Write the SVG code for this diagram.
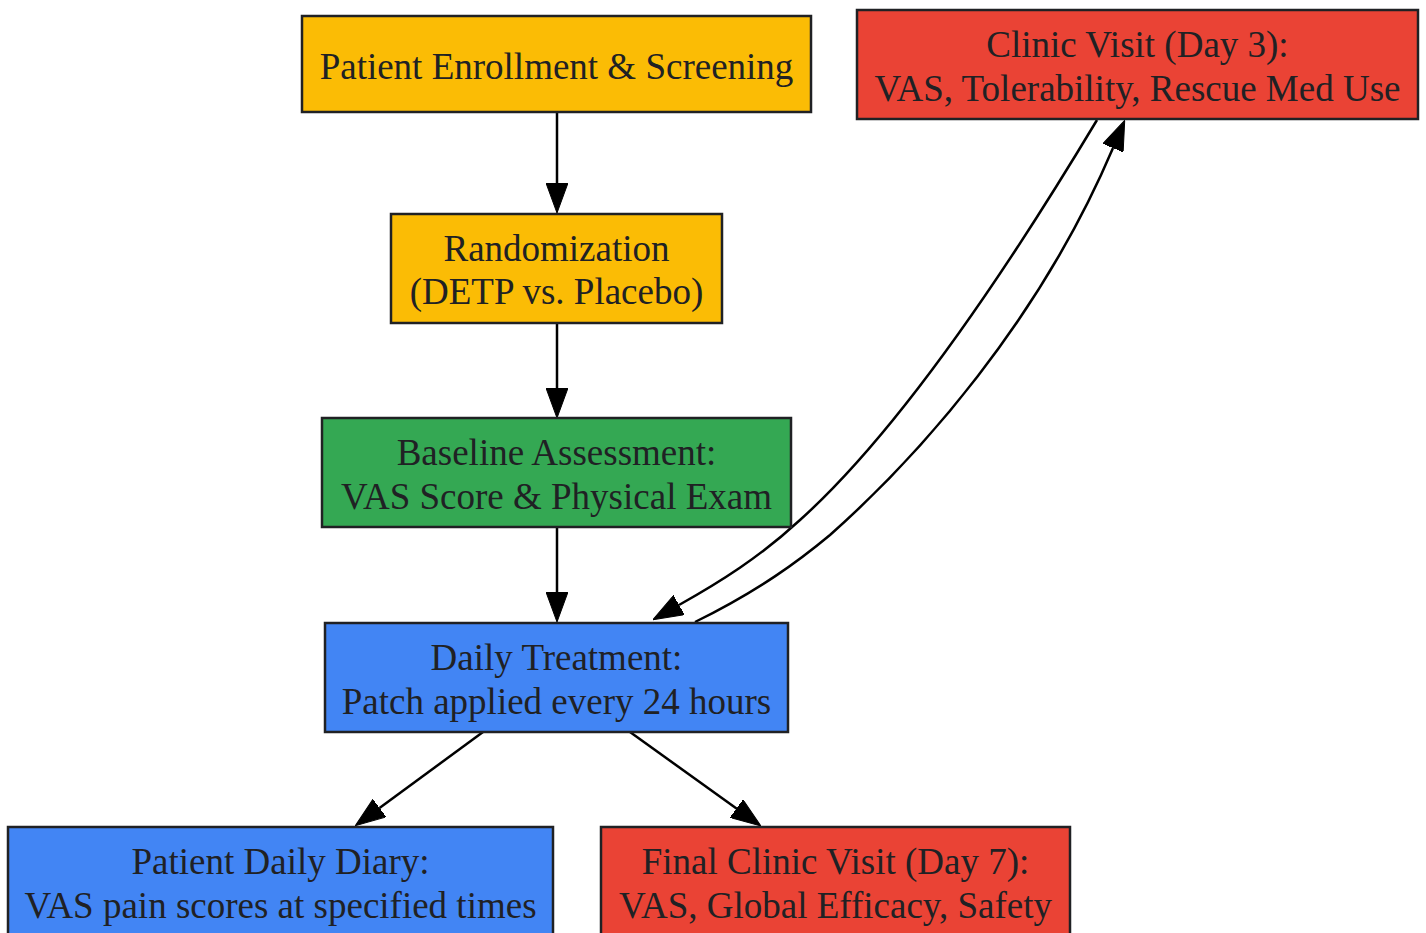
<svg xmlns="http://www.w3.org/2000/svg" width="1426" height="933" viewBox="0 0 1426 933">
<style>
.box{stroke:#202124;stroke-width:2.5}
.y{fill:#FBBC05}.r{fill:#EA4335}.g{fill:#34A853}.b{fill:#4285F4}
text{font-family:"Liberation Serif","Times New Roman",serif;font-size:37px;fill:#202124;text-anchor:middle}
.e{fill:none;stroke:#000;stroke-width:2.5;marker-end:url(#ah)}
</style>
<defs>
<marker id="ah" viewBox="0 0 30 22" refX="0" refY="11" markerWidth="30" markerHeight="22" markerUnits="userSpaceOnUse" orient="auto">
<path d="M0,0 L30,11 L0,22 z" fill="#000" stroke="#000" stroke-width="1"/>
</marker>
</defs>
<rect width="1426" height="933" fill="#fff"/>
<g id="edges">
<path class="e" d="M557,112 L557,183"/>
<path class="e" d="M557,323 L557,388"/>
<path class="e" d="M557,527 L557,592"/>
<path class="e" d="M483,732 L379.5,808"/>
<path class="e" d="M630,732 L736.5,808.5"/>
<path class="e" d="M1097,120 C1010,265 900,430 800,520 C760,557 720,582 679,605"/>
<path class="e" d="M695,622 C760,590 800,560 830,535 C920,455 1040,320 1113,148"/>
</g>
<g id="enroll"><rect class="box y" x="302" y="16" width="509" height="96"/><text x="556.5" y="78.5">Patient Enrollment &amp; Screening</text></g>
<g id="clinic3"><rect class="box r" x="857" y="10" width="561" height="109"/><text x="1137.5" y="57">Clinic Visit (Day 3):</text><text x="1137.5" y="100.5">VAS, Tolerability, Rescue Med Use</text></g>
<g id="random"><rect class="box y" x="391" y="214" width="331" height="109"/><text x="556.5" y="260.5">Randomization</text><text x="556.5" y="304">(DETP vs. Placebo)</text></g>
<g id="baseline"><rect class="box g" x="322" y="418" width="469" height="109"/><text x="556.5" y="465">Baseline Assessment:</text><text x="556.5" y="508.5">VAS Score &amp; Physical Exam</text></g>
<g id="treatment"><rect class="box b" x="325" y="623" width="463" height="109"/><text x="556.5" y="670">Daily Treatment:</text><text x="556.5" y="713.5">Patch applied every 24 hours</text></g>
<g id="diary"><rect class="box b" x="8" y="827" width="545" height="109"/><text x="280.5" y="873.5">Patient Daily Diary:</text><text x="280.5" y="917.5">VAS pain scores at specified times</text></g>
<g id="final"><rect class="box r" x="601" y="827" width="469" height="109"/><text x="835.5" y="873.5">Final Clinic Visit (Day 7):</text><text x="835.5" y="917.5">VAS, Global Efficacy, Safety</text></g>
</svg>
